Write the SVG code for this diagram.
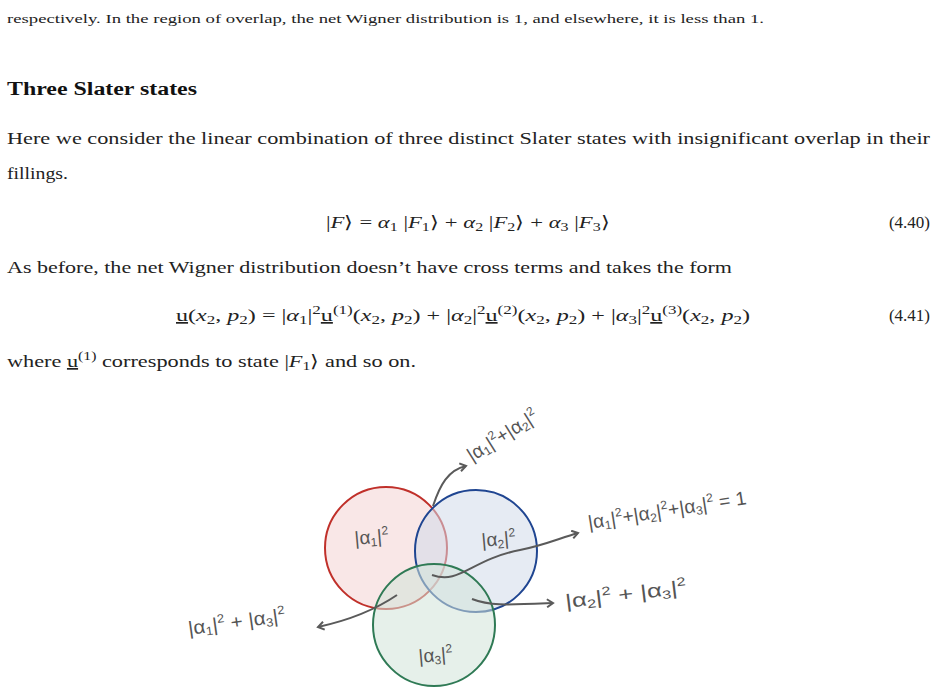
<svg xmlns="http://www.w3.org/2000/svg" width="936" height="692" viewBox="0 0 936 692">
<style>
.t{font-family:"Liberation Serif",serif;font-size:17px;fill:#222}
.s{font-size:13px}
.h{font-family:"Liberation Serif",serif;font-size:18px;font-weight:bold;fill:#111}
.hw{font-family:"Liberation Sans",sans-serif;font-size:19px;fill:#555}
.c{stroke-width:2}
.a{fill:none;stroke:#5a5a5a;stroke-width:2}
</style>
<defs><marker id="ar" markerWidth="10" markerHeight="10" refX="8" refY="5" orient="auto" markerUnits="userSpaceOnUse"><path d="M2,1 L8,5 L2,9" fill="none" stroke="#5a5a5a" stroke-width="2"/></marker></defs>
<rect width="936" height="692" fill="#fff"/>
<g id="text">
<text class="t s" x="7" y="23" textLength="757" lengthAdjust="spacingAndGlyphs">respectively. In the region of overlap, the net Wigner distribution is 1, and elsewhere, it is less than 1.</text>
<text class="h" x="7" y="95" textLength="190" lengthAdjust="spacingAndGlyphs">Three Slater states</text>
<text class="t" x="7" y="144" textLength="923" lengthAdjust="spacingAndGlyphs">Here we consider the linear combination of three distinct Slater states with insignificant overlap in their</text>
<text class="t" x="7" y="179" textLength="61" lengthAdjust="spacingAndGlyphs">fillings.</text>
<text class="t" x="326" y="228" textLength="284" lengthAdjust="spacingAndGlyphs">|<tspan font-style="italic">F</tspan>⟩ = <tspan font-style="italic">α</tspan><tspan font-size="12" dy="3">1</tspan><tspan dy="-3"> |</tspan><tspan font-style="italic">F</tspan><tspan font-size="12" dy="3">1</tspan><tspan dy="-3">⟩ + </tspan><tspan font-style="italic">α</tspan><tspan font-size="12" dy="3">2</tspan><tspan dy="-3"> |</tspan><tspan font-style="italic">F</tspan><tspan font-size="12" dy="3">2</tspan><tspan dy="-3">⟩ + </tspan><tspan font-style="italic">α</tspan><tspan font-size="12" dy="3">3</tspan><tspan dy="-3"> |</tspan><tspan font-style="italic">F</tspan><tspan font-size="12" dy="3">3</tspan><tspan dy="-3">⟩</tspan></text>
<text class="t" x="930" y="228" text-anchor="end">(4.40)</text>
<text class="t" x="7" y="273" textLength="725" lengthAdjust="spacingAndGlyphs">As before, the net Wigner distribution doesn’t have cross terms and takes the form</text>
<text class="t" x="176" y="321" textLength="574" lengthAdjust="spacingAndGlyphs"><tspan text-decoration="underline">u</tspan>(<tspan font-style="italic">x</tspan><tspan font-size="12" dy="3">2</tspan><tspan dy="-3">, </tspan><tspan font-style="italic">p</tspan><tspan font-size="12" dy="3">2</tspan><tspan dy="-3">) = |</tspan><tspan font-style="italic">α</tspan><tspan font-size="12" dy="3">1</tspan><tspan dy="-3">|</tspan><tspan font-size="12" dy="-7">2</tspan><tspan dy="7" text-decoration="underline">u</tspan><tspan font-size="12" dy="-7">(1)</tspan><tspan dy="7">(</tspan><tspan font-style="italic">x</tspan><tspan font-size="12" dy="3">2</tspan><tspan dy="-3">, </tspan><tspan font-style="italic">p</tspan><tspan font-size="12" dy="3">2</tspan><tspan dy="-3">) + |</tspan><tspan font-style="italic">α</tspan><tspan font-size="12" dy="3">2</tspan><tspan dy="-3">|</tspan><tspan font-size="12" dy="-7">2</tspan><tspan dy="7" text-decoration="underline">u</tspan><tspan font-size="12" dy="-7">(2)</tspan><tspan dy="7">(</tspan><tspan font-style="italic">x</tspan><tspan font-size="12" dy="3">2</tspan><tspan dy="-3">, </tspan><tspan font-style="italic">p</tspan><tspan font-size="12" dy="3">2</tspan><tspan dy="-3">) + |</tspan><tspan font-style="italic">α</tspan><tspan font-size="12" dy="3">3</tspan><tspan dy="-3">|</tspan><tspan font-size="12" dy="-7">2</tspan><tspan dy="7" text-decoration="underline">u</tspan><tspan font-size="12" dy="-7">(3)</tspan><tspan dy="7">(</tspan><tspan font-style="italic">x</tspan><tspan font-size="12" dy="3">2</tspan><tspan dy="-3">, </tspan><tspan font-style="italic">p</tspan><tspan font-size="12" dy="3">2</tspan><tspan dy="-3">)</tspan></text>
<text class="t" x="930" y="321" text-anchor="end">(4.41)</text>
<text class="t" x="7" y="367" textLength="409" lengthAdjust="spacingAndGlyphs">where <tspan text-decoration="underline">u</tspan><tspan font-size="12" dy="-7">(1)</tspan><tspan dy="7"> corresponds to state |</tspan><tspan font-style="italic">F</tspan><tspan font-size="12" dy="3">1</tspan><tspan dy="-3">⟩ and so on.</tspan></text>
</g>
<g id="circle1"><circle class="c" cx="386" cy="548" r="61" fill="#f4d4d4" fill-opacity="0.55" stroke="#c0302a"/></g>
<g id="circle2"><circle class="c" cx="476" cy="551" r="61" fill="#d2daea" fill-opacity="0.55" stroke="#1f4591"/></g>
<g id="circle3"><circle class="c" cx="434" cy="625" r="61" fill="#d2e4d8" fill-opacity="0.55" stroke="#2f7a55"/></g>
<g id="labels">
<text class="hw" x="355" y="545" transform="rotate(-5 355 545)">|α<tspan font-size="12" dy="3">1</tspan><tspan dy="-3">|</tspan><tspan font-size="12" dy="-8">2</tspan></text>
<text class="hw" x="482" y="547" transform="rotate(-5 482 547)">|α<tspan font-size="12" dy="3">2</tspan><tspan dy="-3">|</tspan><tspan font-size="12" dy="-8">2</tspan></text>
<text class="hw" x="419" y="663" transform="rotate(-5 419 663)">|α<tspan font-size="12" dy="3">3</tspan><tspan dy="-3">|</tspan><tspan font-size="12" dy="-8">2</tspan></text>
<text class="hw" x="472" y="462" transform="rotate(-32 472 462)">|α<tspan font-size="12" dy="3">1</tspan><tspan dy="-3">|</tspan><tspan font-size="12" dy="-8">2</tspan><tspan dy="8">+|α</tspan><tspan font-size="12" dy="3">2</tspan><tspan dy="-3">|</tspan><tspan font-size="12" dy="-8">2</tspan></text>
<text class="hw" x="589" y="529" transform="rotate(-9 589 529)" textLength="160" lengthAdjust="spacingAndGlyphs">|α<tspan font-size="12" dy="3">1</tspan><tspan dy="-3">|</tspan><tspan font-size="12" dy="-8">2</tspan><tspan dy="8">+|α</tspan><tspan font-size="12" dy="3">2</tspan><tspan dy="-3">|</tspan><tspan font-size="12" dy="-8">2</tspan><tspan dy="8">+|α</tspan><tspan font-size="12" dy="3">3</tspan><tspan dy="-3">|</tspan><tspan font-size="12" dy="-8">2</tspan><tspan dy="8"> = 1</tspan></text>
<text class="hw" x="566" y="608" transform="rotate(-7 566 608)" textLength="122" lengthAdjust="spacingAndGlyphs">|α<tspan font-size="12" dy="3">2</tspan><tspan dy="-3">|</tspan><tspan font-size="12" dy="-8">2</tspan><tspan dy="8"> + |α</tspan><tspan font-size="12" dy="3">3</tspan><tspan dy="-3">|</tspan><tspan font-size="12" dy="-8">2</tspan></text>
<text class="hw" x="189" y="635" transform="rotate(-8 189 635)" textLength="98" lengthAdjust="spacingAndGlyphs">|α<tspan font-size="12" dy="3">1</tspan><tspan dy="-3">|</tspan><tspan font-size="12" dy="-8">2</tspan><tspan dy="8"> + |α</tspan><tspan font-size="12" dy="3">3</tspan><tspan dy="-3">|</tspan><tspan font-size="12" dy="-8">2</tspan></text>
</g>
<g id="connectors">
<path class="a" d="M433,506 C440,485 448,470 466,466" marker-end="url(#ar)"/>
<path class="a" d="M432,575 C460,585 470,560 520,550 C545,545 560,538 578,533" marker-end="url(#ar)"/>
<path class="a" d="M472,599 C490,606 505,605 553,603" marker-end="url(#ar)"/>
<path class="a" d="M397,595 C375,610 350,620 318,627" marker-end="url(#ar)"/>
</g>
</svg>
